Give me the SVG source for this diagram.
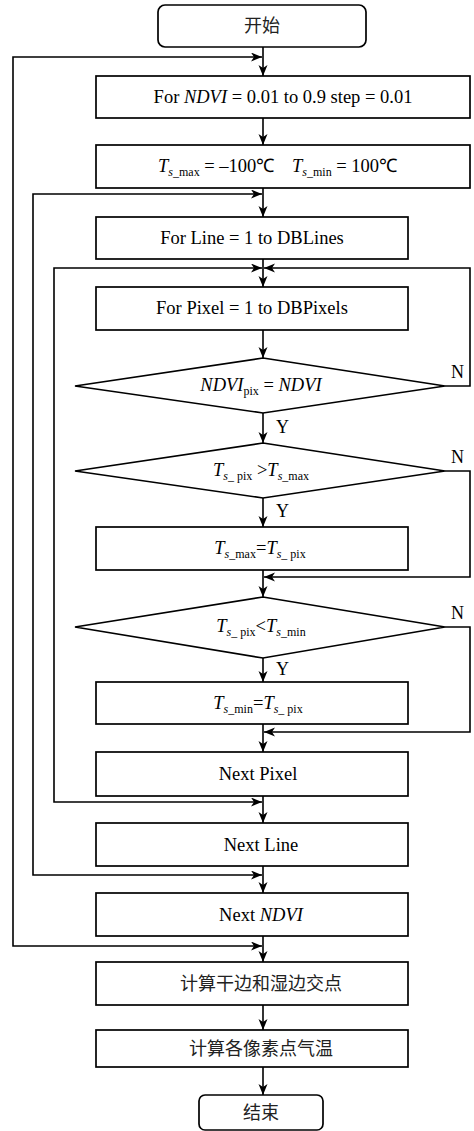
<svg xmlns="http://www.w3.org/2000/svg" width="474" height="1131" viewBox="0 0 474 1131">
<style>
.b{fill:#fff;stroke:#000;stroke-width:1.7}
.c{fill:none;stroke:#000;stroke-width:1.6}
.t{font-family:"Liberation Serif","Times New Roman",serif;font-size:18.5px;fill:#000;text-anchor:middle}
.st{text-anchor:start}
.z{font-family:"Noto Sans CJK SC","Noto Sans CJK JP",sans-serif;font-size:18px;fill:#222;text-anchor:middle}
.i{font-style:italic}
.s{font-size:12px}
.l{font-family:"Liberation Serif","Times New Roman",serif;font-size:18px;fill:#000}
</style>
<defs>
<marker id="a" markerUnits="userSpaceOnUse" markerWidth="12" markerHeight="10" refX="11" refY="4.5" orient="auto-start-reverse">
<path d="M0,0 L11,4.5 L0,9 L3,4.5 z" fill="#000"/>
</marker>
</defs>
<rect width="474" height="1131" fill="#fff"/>
<g id="connectors">
<path class="c" d="M263,47 V76" marker-end="url(#a)"/>
<path class="c" d="M263,118 V145" marker-end="url(#a)"/>
<path class="c" d="M263,188 V217" marker-end="url(#a)"/>
<path class="c" d="M263,259 V287" marker-end="url(#a)"/>
<path class="c" d="M263,330 V358" marker-end="url(#a)"/>
<path class="c" d="M263,413 V443" marker-end="url(#a)"/>
<path class="c" d="M263,498 V527" marker-end="url(#a)"/>
<path class="c" d="M263,570 V597" marker-end="url(#a)"/>
<path class="c" d="M263,658 V682" marker-end="url(#a)"/>
<path class="c" d="M263,724 V752" marker-end="url(#a)"/>
<path class="c" d="M263,796 V823" marker-end="url(#a)"/>
<path class="c" d="M263,866 V893" marker-end="url(#a)"/>
<path class="c" d="M263,936 V962" marker-end="url(#a)"/>
<path class="c" d="M263,1005 V1030" marker-end="url(#a)"/>
<path class="c" d="M263,1067 V1095" marker-end="url(#a)"/>
<path class="c" d="M262,946 H13 V57 H262" marker-start="url(#a)" marker-end="url(#a)"/>
<path class="c" d="M262,875 H33 V194 H262" marker-start="url(#a)" marker-end="url(#a)"/>
<path class="c" d="M262,802 H54 V268 H262" marker-start="url(#a)" marker-end="url(#a)"/>
<path class="c" d="M445,386 H470 V268 H264" marker-end="url(#a)"/>
<path class="c" d="M445,471 H470 V577 H264" marker-end="url(#a)"/>
<path class="c" d="M445,627 H470 V732 H264" marker-end="url(#a)"/>
<text class="l" x="276" y="433">Y</text>
<text class="l" x="276" y="517">Y</text>
<text class="l" x="276" y="675">Y</text>
<text class="l" x="451" y="378">N</text>
<text class="l" x="451" y="463">N</text>
<text class="l" x="451" y="619">N</text>
</g>
<g id="start"><rect class="b" x="158" y="5" width="208" height="42" rx="7"/><text class="z" x="262" y="32">开始</text></g>
<g id="forNdvi"><rect class="b" x="96" y="76" width="374" height="42"/><text class="t" x="283" y="103">For <tspan class="i">NDVI</tspan> = 0.01 to 0.9 step = 0.01</text></g>
<g id="init"><rect class="b" x="96" y="145" width="374" height="43"/><text class="t st" x="158" y="172"><tspan class="i">T</tspan><tspan class="s" dy="4"><tspan class="i">s</tspan>_max</tspan><tspan dy="-4"> = –100℃</tspan></text><text class="t st" x="292" y="172"><tspan class="i">T</tspan><tspan class="s" dy="4"><tspan class="i">s</tspan>_min</tspan><tspan dy="-4"> = 100℃</tspan></text></g>
<g id="forLine"><rect class="b" x="96" y="217" width="312" height="42"/><text class="t" x="252" y="244">For Line = 1 to DBLines</text></g>
<g id="forPixel"><rect class="b" x="96" y="287" width="312" height="43"/><text class="t" x="252" y="314">For Pixel = 1 to DBPixels</text></g>
<g id="d1"><path class="b" d="M263,358 L445,386 L263,413 L75,386 Z"/><text class="t" x="261" y="391"><tspan class="i">NDVI</tspan><tspan class="s" dy="4">pix</tspan><tspan dy="-4"> = </tspan><tspan class="i">NDVI</tspan></text></g>
<g id="d2"><path class="b" d="M263,443 L445,471 L263,498 L75,471 Z"/><text class="t" x="261" y="476"><tspan class="i">T</tspan><tspan class="s" dy="4"><tspan class="i">s</tspan>_ pix</tspan><tspan dy="-4"> &gt;</tspan><tspan class="i">T</tspan><tspan class="s" dy="4"><tspan class="i">s</tspan>_max</tspan></text></g>
<g id="setMax"><rect class="b" x="96" y="527" width="312" height="43"/><text class="t" x="260" y="554"><tspan class="i">T</tspan><tspan class="s" dy="4"><tspan class="i">s</tspan>_max</tspan><tspan dy="-4">=</tspan><tspan class="i">T</tspan><tspan class="s" dy="4"><tspan class="i">s</tspan>_ pix</tspan></text></g>
<g id="d3"><path class="b" d="M263,597 L445,627 L263,658 L75,627 Z"/><text class="t" x="261" y="632"><tspan class="i">T</tspan><tspan class="s" dy="4"><tspan class="i">s</tspan>_ pix</tspan><tspan dy="-4">&lt;</tspan><tspan class="i">T</tspan><tspan class="s" dy="4"><tspan class="i">s</tspan>_min</tspan></text></g>
<g id="setMin"><rect class="b" x="96" y="682" width="312" height="42"/><text class="t" x="258" y="709"><tspan class="i">T</tspan><tspan class="s" dy="4"><tspan class="i">s</tspan>_min</tspan><tspan dy="-4">=</tspan><tspan class="i">T</tspan><tspan class="s" dy="4"><tspan class="i">s</tspan>_ pix</tspan></text></g>
<g id="nextPixel"><rect class="b" x="96" y="752" width="312" height="44"/><text class="t" x="258" y="780">Next Pixel</text></g>
<g id="nextLine"><rect class="b" x="96" y="823" width="312" height="43"/><text class="t" x="261" y="851">Next Line</text></g>
<g id="nextNdvi"><rect class="b" x="96" y="893" width="312" height="43"/><text class="t" x="261" y="921">Next <tspan class="i">NDVI</tspan></text></g>
<g id="calc1"><rect class="b" x="96" y="962" width="312" height="43"/><text class="z" x="261" y="990">计算干边和湿边交点</text></g>
<g id="calc2"><rect class="b" x="96" y="1030" width="312" height="37"/><text class="z" x="261" y="1055">计算各像素点气温</text></g>
<g id="end"><rect class="b" x="199" y="1095" width="124" height="35" rx="6"/><text class="z" x="261" y="1119">结束</text></g>
</svg>
